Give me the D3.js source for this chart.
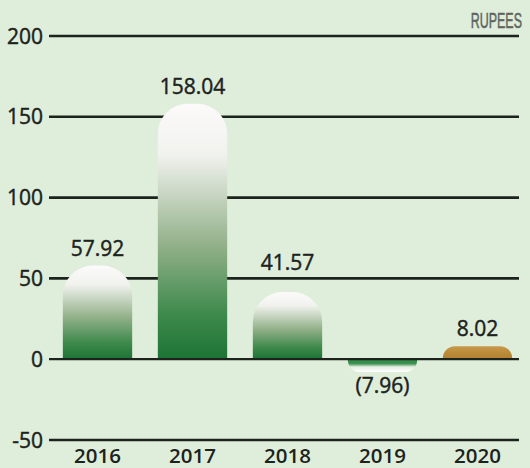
<!DOCTYPE html>
<html>
<head>
<meta charset="utf-8">
<script src="https://cdn.jsdelivr.net/npm/d3@7"></script>
<style>
  html, body { margin: 0; padding: 0; background: #dfeedb; }
  svg { display: block; }
</style>
</head>
<body>
<svg id="chart" width="530" height="468"></svg>
<script>
// Yearly values in rupees
const years = ["2016", "2017", "2018", "2019", "2020"];
const values = [57.92, 158.04, 41.57, -7.96, 8.02];
const valueLabels = ["57.92", "158.04", "41.57", "(7.96)", "8.02"];
const fillKeys = ["green", "green", "green", "greenNeg", "gold"];
const tickValues = [-50, 0, 50, 100, 150, 200];
const unitLabel = "RUPEES";

const W = 530, H = 468;
const ink = "#1c231d";

const svg = d3.select("#chart");

const x = d3.scaleBand()
  .domain(years)
  .range([50, 525])
  .paddingInner(0.27)
  .paddingOuter(0.135);

const y = d3.scaleLinear()
  .domain([-50, 200])
  .range([440, 36]);

// Gradients
const defs = svg.append("defs");
function grad(id, stops) {
  const g = defs.append("linearGradient")
    .attr("id", id).attr("x1", 0).attr("y1", 0).attr("x2", 0).attr("y2", 1);
  stops.forEach(([o, c]) => g.append("stop").attr("offset", o).attr("stop-color", c));
}
grad("green", [[0, "#fcfafa"], [0.2, "#f1f2ee"], [0.55, "#93b18a"], [0.82, "#3f8a4d"], [1, "#1c7434"]]);
grad("greenNeg", [[0, "#2b8745"], [0.35, "#3f9253"], [0.6, "#e6efe2"], [1, "#ffffff"]]);
grad("gold", [[0, "#c89a4b"], [0.5, "#bb8b3a"], [1, "#b08131"]]);

// Gridlines (zero line is drawn over the bars later)
const gridX0 = 49, gridX1 = 519;
svg.append("g")
  .selectAll("line")
  .data(tickValues.filter(t => t !== 0))
  .join("line")
  .attr("x1", gridX0).attr("x2", gridX1)
  .attr("y1", d => y(d)).attr("y2", d => y(d))
  .attr("stroke", ink).attr("stroke-width", 2.6);

// Medium-weight numerals: regular face with a hairline stroke
function numeralStyle(sel) {
  sel.attr("font-family", "'Open Sans', sans-serif")
    .attr("font-size", 21)
    .attr("fill", ink)
    .attr("stroke", ink)
    .attr("stroke-width", 0.45);
}

// Y tick labels
svg.append("g")
  .selectAll("text")
  .data(tickValues)
  .join("text")
  .attr("x", 43)
  .attr("y", d => y(d))
  .attr("dy", "0.36em")
  .attr("text-anchor", "end")
  .call(numeralStyle)
  .text(d => d);

// Bar outline with rounded corners on the far end from zero
function barPath(d, i) {
  const x0 = x(years[i]);
  const w = x.bandwidth();
  const y0 = y(0);
  const y1 = y(d);
  const h = Math.abs(y1 - y0);
  const rx = Math.min(h > 40 ? 30 : 12, w / 2);
  const ry = Math.min(rx, h);
  if (d >= 0) {
    return `M${x0},${y0} V${y1 + ry} A${rx},${ry} 0 0 1 ${x0 + rx},${y1} H${x0 + w - rx} A${rx},${ry} 0 0 1 ${x0 + w},${y1 + ry} V${y0} Z`;
  }
  return `M${x0},${y0} V${y1 - ry} A${rx},${ry} 0 0 0 ${x0 + rx},${y1} H${x0 + w - rx} A${rx},${ry} 0 0 0 ${x0 + w},${y1 - ry} V${y0} Z`;
}

svg.append("g")
  .selectAll("path")
  .data(values)
  .join("path")
  .attr("d", barPath)
  .attr("fill", (d, i) => `url(#${fillKeys[i]})`);

// Zero line
svg.append("line")
  .attr("x1", gridX0).attr("x2", gridX1)
  .attr("y1", y(0)).attr("y2", y(0))
  .attr("stroke", ink).attr("stroke-width", 2.2);

// Value labels: above positive bars, below negative ones; lifted clear of a gridline when they would sit on it
const gridYs = tickValues.map(t => y(t));
function labelBaseline(d) {
  if (d < 0) return y(d) + 21;
  let b = y(d) - 10;
  for (const gy of gridYs) {
    if (gy > b - 16 && gy < b + 4) b = gy - 8;
  }
  return b;
}
svg.append("g")
  .selectAll("text")
  .data(values)
  .join("text")
  .attr("x", (d, i) => x(years[i]) + x.bandwidth() / 2)
  .attr("y", d => labelBaseline(d))
  .attr("text-anchor", "middle")
  .call(numeralStyle)
  .text((d, i) => valueLabels[i]);

// Year labels
svg.append("g")
  .selectAll("text")
  .data(years)
  .join("text")
  .attr("x", d => x(d) + x.bandwidth() / 2)
  .attr("y", 463)
  .attr("text-anchor", "middle")
  .attr("font-family", "'Open Sans', sans-serif")
  .attr("font-weight", 600)
  .attr("font-size", 20.5)
  .attr("fill", ink)
  .text(d => d);

// Unit label: a tall face squeezed horizontally
svg.append("g")
  .attr("transform", "translate(522,28) scale(0.58,1)")
  .append("text")
  .attr("x", 0)
  .attr("y", 0)
  .attr("text-anchor", "end")
  .attr("font-family", "'Liberation Sans', 'DejaVu Sans', sans-serif")
  .attr("font-size", 21.5)
  .attr("fill", "#60655e")
  .attr("stroke", "#60655e")
  .attr("stroke-width", 0.5)
  .text(unitLabel);
</script>
</body>
</html>
